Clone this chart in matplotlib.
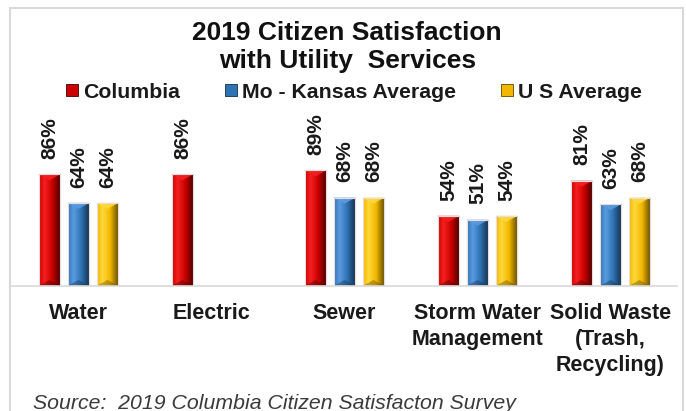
import numpy as np
import matplotlib
matplotlib.use("Agg")
import matplotlib.pyplot as plt
from matplotlib.patches import Rectangle, Polygon
from matplotlib.colors import to_rgb

# ---------------- data ----------------
categories = ["Water", "Electric", "Sewer", "Storm Water\nManagement",
              "Solid Waste\n(Trash,\nRecycling)"]
series_names = ["Columbia", "Mo - Kansas Average", "U S Average"]
columbia = [86, 86, 89, 54, 81]
mo_kansas = [64, None, 68, 51, 63]
us_average = [64, None, 68, 54, 68]

title_lines = ["2019 Citizen Satisfaction", "with Utility  Services"]
source_text = "Source:  2019 Columbia Citizen Satisfacton Survey"

# ---------------- style ----------------
plt.rcParams["font.family"] = ["Liberation Sans", "DejaVu Sans"]
W, H = 686, 411
fig = plt.figure(figsize=(W / 100, H / 100), dpi=100)
fig.patch.set_facecolor("white")

# colour triplets: light, base, dark
palettes = [
    ("#f52020", "#cc0000", "#420000"),
    ("#5a9be0", "#2e74b5", "#152d48"),
    ("#ffd83a", "#f2b700", "#5f4a00"),
]

ax = fig.add_axes([12 / W, 125 / H, 665 / W, 130 / H])
ax.set_xlim(-0.5, len(categories) - 0.5)
ax.set_ylim(0, 100)

bar_w = 0.165
step = 0.218
series = [columbia, mo_kansas, us_average]
x = np.arange(len(categories))


def gradient_image(light, base, dark, n=64):
    stops = [0.0, 0.25, 0.6, 1.0]
    cols = [to_rgb(base), to_rgb(light), to_rgb(base), to_rgb(dark)]
    t = np.linspace(0, 1, n)
    rgb = np.zeros((1, n, 3))
    for c in range(3):
        rgb[0, :, c] = np.interp(t, stops, [col[c] for col in cols])
    return np.repeat(rgb, 2, axis=0)


px_per_unit = 130 / 100.0
bevel = 6 / px_per_unit

for si, (vals, pal) in enumerate(zip(series, palettes)):
    light, base, dark = pal
    xs = [xi + (si - 1) * step for xi, v in zip(x, vals) if v is not None]
    hs = [v for v in vals if v is not None]
    bars = ax.bar(xs, hs, width=bar_w, color=base, edgecolor="#e3d6d6",
                  linewidth=0.8, zorder=2)
    img = gradient_image(light, base, dark)
    for b, v in zip(bars, hs):
        x0, w, h = b.get_x(), b.get_width(), b.get_height()
        im = ax.imshow(img, extent=[x0, x0 + w, 0, h], aspect="auto",
                       origin="lower", interpolation="bilinear", zorder=2.1)
        im.set_clip_path(b)
        # top bevel (lighter V) and bottom bevel (darker V)
        ax.add_patch(Polygon([(x0, h), (x0 + w, h), (x0 + w / 2, h - bevel)],
                             closed=True, facecolor=light, alpha=0.9,
                             edgecolor="none", zorder=2.2))
        ax.add_patch(Polygon([(x0, 0), (x0 + w, 0), (x0 + w / 2, bevel)],
                             closed=True, facecolor=dark, alpha=0.4,
                             edgecolor="none", zorder=2.2))
        ax.add_patch(Rectangle((x0, 0), w, h, facecolor="none",
                               edgecolor="#e8dcdc", linewidth=0.8, zorder=2.3))
        ax.annotate(f"{v}%", xy=(x0 + w / 2, h), xytext=(0, 11),
                    textcoords="offset points", rotation=90, ha="center",
                    va="bottom", fontsize=15, fontweight="bold",
                    color="#1a1a1a", annotation_clip=False)

ax.set_xlim(-0.5, len(categories) - 0.5)
ax.set_ylim(0, 100)
ax.set_xticks(x)
ax.set_xticklabels(categories, fontsize=15.5, fontweight="bold",
                   color="#1a1a1a", linespacing=1.33)
ax.tick_params(axis="x", length=0, pad=12)
ax.set_yticks([])
for s in ["top", "left", "right"]:
    ax.spines[s].set_visible(False)
ax.spines["bottom"].set_color("#d9d9d9")
ax.spines["bottom"].set_linewidth(1.2)
ax.patch.set_alpha(0)

# title
fig.text(347 / W, 1 - 40 / H, title_lines[0], ha="center", va="baseline",
         fontsize=19, fontweight="bold", color="#111111")
fig.text(348 / W, 1 - 68 / H, title_lines[1], ha="center", va="baseline",
         fontsize=19, fontweight="bold", color="#111111")

# legend
handles = [Rectangle((0, 0), 1, 1, facecolor=p[1], edgecolor=p[2], linewidth=0.6)
           for p in palettes]
fig.legend(handles, series_names, loc="center",
           bbox_to_anchor=(354 / W, 1 - 92 / H), ncol=3, frameon=False,
           prop={"size": 15.3, "weight": "bold"}, handlelength=0.56,
           handleheight=0.47, handletextpad=0.25, columnspacing=2.1,
           borderaxespad=0, labelcolor="#1a1a1a")

# source
fig.text(33 / W, 1 - 403 / H, source_text, ha="left", va="center",
         fontsize=15.3, style="italic", color="#3a3a3a")

# outer border
fig.patches.append(Rectangle((10 / W, -0.05), 673 / W, 1 - 8 / H + 0.05,
                             transform=fig.transFigure, facecolor="none",
                             edgecolor="#d9d9d9", linewidth=1.5, zorder=0))

fig.savefig("out.png", dpi=100)
